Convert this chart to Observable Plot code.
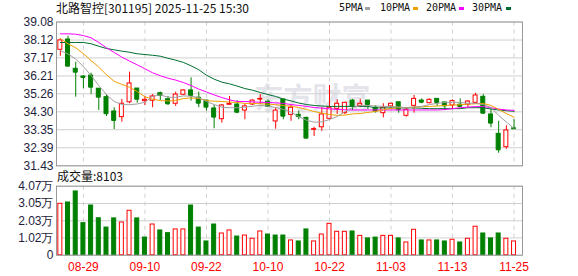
<!DOCTYPE html>
<html><head><meta charset="utf-8">
<script src="https://cdn.jsdelivr.net/npm/d3@7"></script>
<script src="https://cdn.jsdelivr.net/npm/@observablehq/plot@0.6"></script>
<style>
html,body{margin:0;padding:0;background:#fff;}
#wrap{position:relative;width:578px;height:276px;overflow:hidden;}
#main,#vol{position:absolute;left:0;}
#main{top:0}
#vol{top:170px}
.txt{position:absolute;white-space:nowrap;z-index:5;}
#title{left:56px;top:0px;font:12px/16px "Noto Sans CJK SC",sans-serif;color:#111;}
#volLabel{left:57px;top:168px;font:12px/16px "Noto Sans CJK SC",sans-serif;color:#111;}
.lg{position:absolute;top:0px;font:10px/16px "DejaVu Sans Mono",monospace;color:#111;z-index:5;white-space:nowrap;}
.sw{position:absolute;top:7px;width:5px;height:3px;z-index:5;}
</style>
</head><body>
<div id="wrap">
  <div id="main"></div>
  <div id="vol"></div>
</div>
<script>
// ---- data ----
const open  = [37.60,38.15,36.59,36.18,36.23,35.53,35.08,34.32,34.02,34.81,35.54,34.87,34.89,35.29,34.97,34.73,35.21,35.44,35.05,34.90,34.48,33.91,34.68,34.69,34.37,34.69,34.96,34.84,33.79,34.96,34.14,34.14,33.98,33.35,33.48,33.93,34.46,34.23,34.90,34.62,34.90,34.52,34.23,34.59,34.81,34.09,34.62,34.90,34.76,34.99,34.80,34.64,34.68,34.68,34.78,35.10,34.16,33.13,32.42,33.42];
const high  = [38.19,38.32,36.94,36.23,36.36,35.53,35.22,34.52,34.96,36.41,35.54,35.12,35.22,35.35,35.12,35.35,35.47,36.11,35.35,34.90,34.64,34.69,35.12,34.90,34.73,34.94,35.22,34.94,34.52,34.96,34.64,34.34,34.02,33.48,34.52,35.70,34.94,34.80,34.96,34.97,34.90,34.62,34.73,34.76,34.81,34.52,35.17,34.99,34.99,34.99,34.80,34.94,34.99,34.90,35.29,35.22,34.46,33.80,33.56,33.88];
const low   = [37.26,36.73,35.08,35.53,35.22,34.37,34.05,33.36,33.75,34.73,34.76,34.64,34.52,34.90,34.64,34.59,35.17,34.87,34.52,34.34,33.40,33.70,34.64,34.20,33.88,34.64,34.69,34.52,33.38,33.88,33.80,33.88,32.90,32.99,33.26,33.93,34.16,34.16,34.37,34.52,34.41,34.23,33.98,34.41,34.23,34.02,34.23,34.73,34.73,34.59,34.37,34.41,34.59,34.52,34.73,34.16,33.45,32.10,32.31,33.40];
const close = [38.10,36.73,36.41,36.13,35.61,35.08,34.20,33.84,34.73,35.81,34.97,34.94,35.12,35.17,34.73,35.22,35.44,35.17,34.76,34.55,34.02,34.64,34.73,34.28,34.59,34.90,34.99,34.59,34.37,34.07,34.52,34.05,32.90,33.38,34.16,34.52,34.73,34.78,34.62,34.73,34.69,34.34,34.52,34.73,34.41,34.41,34.99,34.81,34.94,34.80,34.62,34.87,34.59,34.85,35.17,34.23,33.70,32.28,33.31,33.40];
const ma5  = [37.56,37.38,37.11,36.71,36.23,35.70,35.22,34.85,34.69,34.68,34.72,34.81,35.13,35.20,35.08,35.07,35.15,35.13,35.06,34.85,34.69,34.55,34.52,34.52,34.55,34.60,34.64,34.60,34.53,34.43,34.29,34.05,33.86,33.75,33.77,33.89,34.05,34.32,34.53,34.63,34.64,34.61,34.59,34.59,34.56,34.52,34.56,34.59,34.69,34.75,34.80,34.81,34.80,34.76,34.75,34.69,34.53,34.11,33.76,33.42];
const ma10 = [38.19,37.92,37.71,37.39,37.03,36.68,36.27,35.93,35.76,35.61,35.38,35.10,34.98,34.90,34.88,34.90,35.01,35.04,35.01,34.90,34.87,34.85,34.82,34.80,34.75,34.75,34.73,34.71,34.68,34.64,34.60,34.53,34.43,34.32,34.23,34.16,34.11,34.13,34.19,34.21,34.27,34.32,34.41,34.48,34.52,34.53,34.55,34.57,34.59,34.61,34.64,34.66,34.68,34.71,34.73,34.75,34.64,34.43,34.21,34.02];
const ma20 = [38.45,38.45,38.43,38.36,38.24,37.99,37.71,37.46,37.21,37.00,36.80,36.59,36.38,36.22,36.09,35.99,35.86,35.70,35.51,35.36,35.20,35.06,34.94,34.85,34.85,34.83,34.81,34.80,34.78,34.75,34.69,34.64,34.59,34.53,34.50,34.46,34.43,34.41,34.40,34.40,34.40,34.40,34.40,34.40,34.40,34.40,34.40,34.40,34.40,34.40,34.42,34.47,34.52,34.55,34.58,34.58,34.52,34.45,34.40,34.38];
const ma30 = [37.99,37.99,37.99,37.99,37.92,37.79,37.67,37.60,37.53,37.47,37.39,37.35,37.31,37.26,37.15,37.05,36.93,36.75,36.54,36.25,36.04,35.88,35.79,35.67,35.54,35.45,35.33,35.22,35.12,34.98,34.88,34.77,34.69,34.64,34.61,34.59,34.59,34.59,34.59,34.59,34.59,34.51,34.51,34.51,34.51,34.51,34.51,34.49,34.47,34.47,34.47,34.47,34.47,34.52,34.52,34.52,34.45,34.40,34.36,34.33];
const volume = [3.03,3.11,3.76,1.89,2.93,2.18,1.63,2.17,1.93,2.62,2.17,1.04,1.81,1.46,1.30,1.52,1.52,2.93,1.63,0.81,1.81,1.28,1.46,1.10,1.16,0.97,1.40,1.22,1.16,1.16,0.87,0.81,1.52,0.81,1.22,1.85,1.38,1.38,1.40,1.14,0.99,1.04,1.14,1.14,0.99,0.75,1.50,0.87,0.87,0.87,0.81,0.91,0.75,0.97,1.68,1.28,0.99,1.28,0.97,0.81];
const volUp = [1,0,0,0,0,0,0,0,1,1,0,0,1,0,0,1,1,0,0,0,0,1,1,0,1,1,1,0,0,0,1,0,0,1,1,1,1,1,0,1,0,0,1,1,0,1,1,0,1,0,0,1,0,1,1,0,0,0,1,1];
const priceTicks = [39.08,38.12,37.17,36.21,35.26,34.30,33.35,32.39,31.43];
const volTicks = [0,1.02,2.03,3.05,4.07];
const volTickLabels = ["0","1.02万","2.03万","3.05万","4.07万"];
const dateTickIdx = [3,11,19,27,35,43,51,59];
const dateTickLabels = ["08-29","09-10","09-22","10-10","10-22","11-03","11-13","11-25"];
const maNames = ["5PMA","10PMA","20PMA","30PMA"];
const titleText = "北路智控[301195] 2025-11-25 15:30";
const volLabelText = "成交量:8103";
const watermark = "东方财富";

// ---- styling ----
const RED = "#ff0000", GRN = "#008000";
const maColors = ["#a0a0a0","#f0a000","#ff00ff","#006e30"];
const GRID = "#d0d0d0", FRAME = "#999999";
const HW = 0.26;

const rows = open.map((o, i) => ({i, o, h: high[i], l: low[i], c: close[i], up: close[i] >= open[i]}));
const vrows = volume.map((v, i) => ({i, v, up: volUp[i] === 1}));
const maSeries = [ma30, ma20, ma10, ma5];
const maCols = [maColors[3], maColors[2], maColors[1], maColors[0]];
const xDomain = [-0.5, 60.1];
const baseStyle = {fontFamily: "'Liberation Sans', Arial, sans-serif", fontSize: "12px", color: "#1e1e3c", background: "#fff", overflow: "visible"};

const mainPlot = Plot.plot({
  width: 578, height: 170,
  marginTop: 21.5, marginBottom: 4.7, marginLeft: 56, marginRight: 56,
  x: {type: "linear", domain: xDomain, axis: null},
  y: {domain: [31.43, 39.08]},
  color: {type: "identity"},
  style: baseStyle,
  marks: [
    Plot.text([watermark], {frameAnchor: "top-left", dx: 256, dy: 66, text: d => d, fontSize: 29, fill: "#e4e4ea", textAnchor: "middle", fontFamily: "'Noto Sans CJK SC'", fontWeight: "bold", style: "letter-spacing:5px"}),
    Plot.ruleY(priceTicks, {stroke: GRID}),
    Plot.ruleX(dateTickIdx, {stroke: GRID, strokeDasharray: "4,4"}),
    Plot.axisY({ticks: priceTicks, tickFormat: d => d.toFixed(2), tickSize: 0, tickPadding: 3, label: null, fontSize: 12}),
    Plot.ruleX(rows, {x: "i", y1: "l", y2: "h", stroke: d => d.up ? RED : GRN}),
    Plot.ruleY(rows, {y: "c", x1: d => d.i - HW, x2: d => d.i + HW, stroke: d => d.up ? RED : GRN}),
    Plot.rect(rows, {x1: d => d.i - HW, x2: d => d.i + HW, y1: "o", y2: "c", fill: d => d.up ? "#ffffff" : GRN, stroke: d => d.up ? RED : GRN}),
    ...maSeries.map((s, k) => Plot.line(s, {x: (d, i) => i, y: d => d, stroke: maCols[k], strokeWidth: 1})),
    Plot.frame({stroke: FRAME})
  ]
});
document.getElementById("main").appendChild(mainPlot);

const volPlot = Plot.plot({
  width: 578, height: 106,
  marginTop: 15.7, marginBottom: 21.3, marginLeft: 56, marginRight: 56,
  x: {type: "linear", domain: xDomain},
  y: {domain: [0, 4.07]},
  color: {type: "identity"},
  style: baseStyle,
  marks: [
    Plot.ruleY(volTicks, {stroke: GRID}),
    Plot.ruleX(dateTickIdx, {stroke: GRID, strokeDasharray: "4,4"}),
    Plot.axisY({ticks: volTicks, tickFormat: d => volTickLabels[volTicks.indexOf(d)], tickSize: 0, tickPadding: 3, label: null, fontSize: 12}),
    Plot.rect(vrows, {x1: d => d.i - HW, x2: d => d.i + HW, y1: 0, y2: "v", fill: d => d.up ? "#ffffff" : GRN, stroke: d => d.up ? RED : GRN}),
    Plot.axisX({ticks: dateTickIdx, tickFormat: d => dateTickLabels[dateTickIdx.indexOf(d)], tickSize: 0, tickPadding: 7, label: null, fill: RED, fontSize: 12}),
    Plot.frame({stroke: FRAME})
  ]
});
document.getElementById("vol").appendChild(volPlot);

// ---- texts above the charts ----
const wrap = document.getElementById("wrap");
function addDiv(id, cls, text, left, top) {
  const d = document.createElement("div");
  if (id) d.id = id;
  d.className = cls;
  d.textContent = text;
  if (left != null) d.style.left = left + "px";
  if (top != null) d.style.top = top + "px";
  wrap.appendChild(d);
  return d;
}
addDiv("title", "txt", titleText);
addDiv("volLabel", "txt", volLabelText);
const lgTextX = [339, 380, 426, 472];
const lgSwX = [365, 413, 459, 506];
maNames.forEach((n, k) => {
  addDiv(null, "lg", n, lgTextX[k], 0);
  const s = addDiv(null, "sw", "", lgSwX[k], 7);
  s.style.background = maColors[k];
});
</script>
</body></html>
